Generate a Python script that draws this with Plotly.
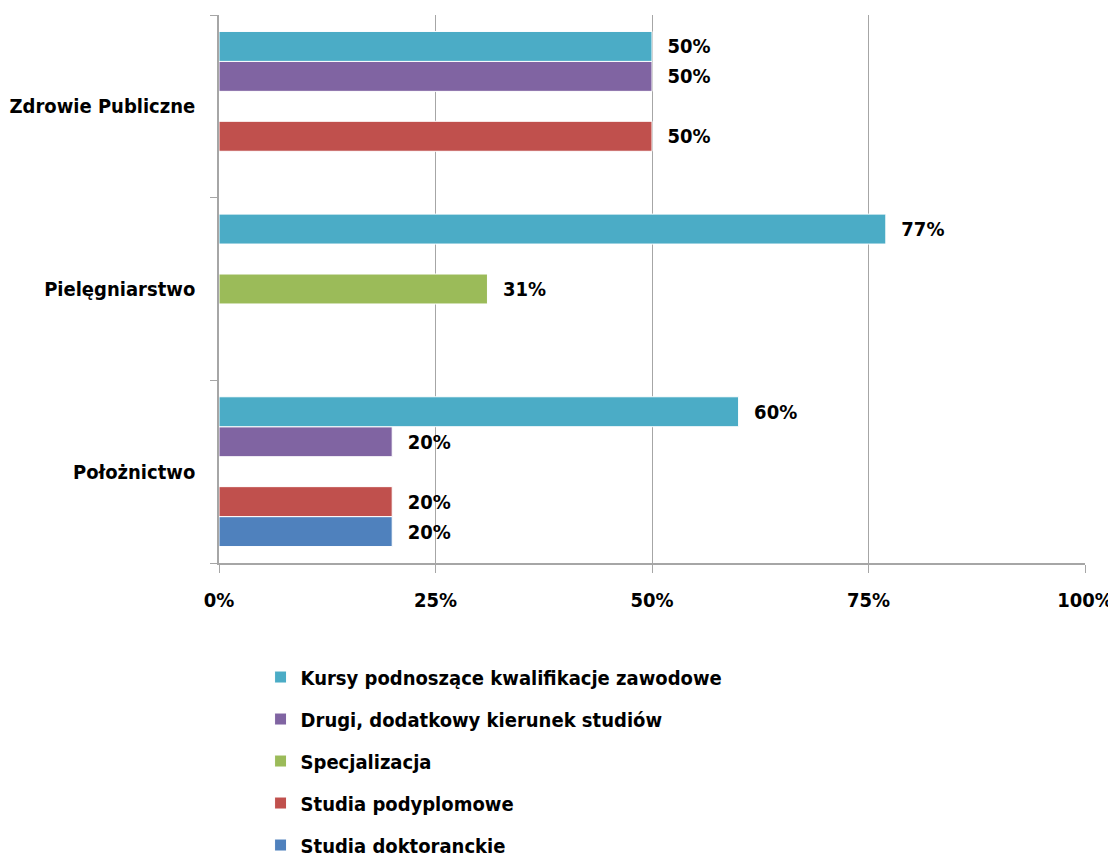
import plotly.graph_objects as go

categories = ["Położnictwo", "Pielęgniarstwo", "Zdrowie Publiczne"]
series_names = [
    "Kursy podnoszące kwalifikacje zawodowe",
    "Drugi, dodatkowy kierunek studiów",
    "Specjalizacja",
    "Studia podyplomowe",
    "Studia doktoranckie",
]
kursy = [60, 77, 50]
drugi = [20, None, 50]
specjalizacja = [None, 31, None]
podyplomowe = [20, None, 50]
doktoranckie = [20, None, None]
colors = ["#4BACC6", "#8064A2", "#9BBB59", "#C0504D", "#4F81BD"]
x_tickvals = [0, 25, 50, 75, 100]
x_ticktext = ["0%", "25%", "50%", "75%", "100%"]

values = [kursy, drugi, specjalizacja, podyplomowe, doktoranckie]
FONT = "DejaVu Sans Condensed, DejaVu Sans"


def fnt(size=20):
    return dict(family=FONT, size=size, color="black", weight="bold")


fig = go.Figure()
# add in reverse so the first series sits at the top of each group
for i in reversed(range(len(series_names))):
    vals = values[i]
    fig.add_trace(go.Bar(
        y=categories, x=vals, orientation="h", name=series_names[i],
        legendgroup=str(i), legendrank=i + 1,
        marker=dict(color=colors[i], line=dict(color="white", width=1)),
        text=[("\u00a0\u00a0%d%%" % v) if v is not None else "" for v in vals],
        textposition="outside", cliponaxis=False,
        textfont=fnt(20),
    ))

fig.update_layout(
    width=1108, height=849,
    margin=dict(l=211, r=31, t=7, b=294, autoexpand=False),
    paper_bgcolor="white", plot_bgcolor="white",
    barmode="group", bargap=0.18, bargroupgap=0,
    font=fnt(20),
    showlegend=True,
    legend=dict(
        x=0.048, y=-0.1725, xanchor="left", yanchor="top",
        traceorder="grouped", tracegroupgap=13,
        font=fnt(20),
        itemwidth=30,
    ),
    xaxis=dict(
        range=[0, 100], tickvals=x_tickvals, ticktext=x_ticktext,
        showgrid=True, gridcolor="#A6A6A6", gridwidth=1,
        showline=True, linecolor="#A6A6A6", linewidth=1.5,
        ticks="outside", ticklen=8, tickcolor="#A6A6A6",
        ticklabelstandoff=10, zeroline=False, automargin=False,
        tickfont=fnt(20),
    ),
    yaxis=dict(
        showgrid=False, showline=True, linecolor="#A6A6A6", linewidth=1.5,
        ticks="outside", ticklen=7, tickcolor="#A6A6A6", tickson="boundaries",
        ticklabelstandoff=18, automargin=False,
        tickfont=fnt(20),
    ),
)

fig.write_html("out.html")
